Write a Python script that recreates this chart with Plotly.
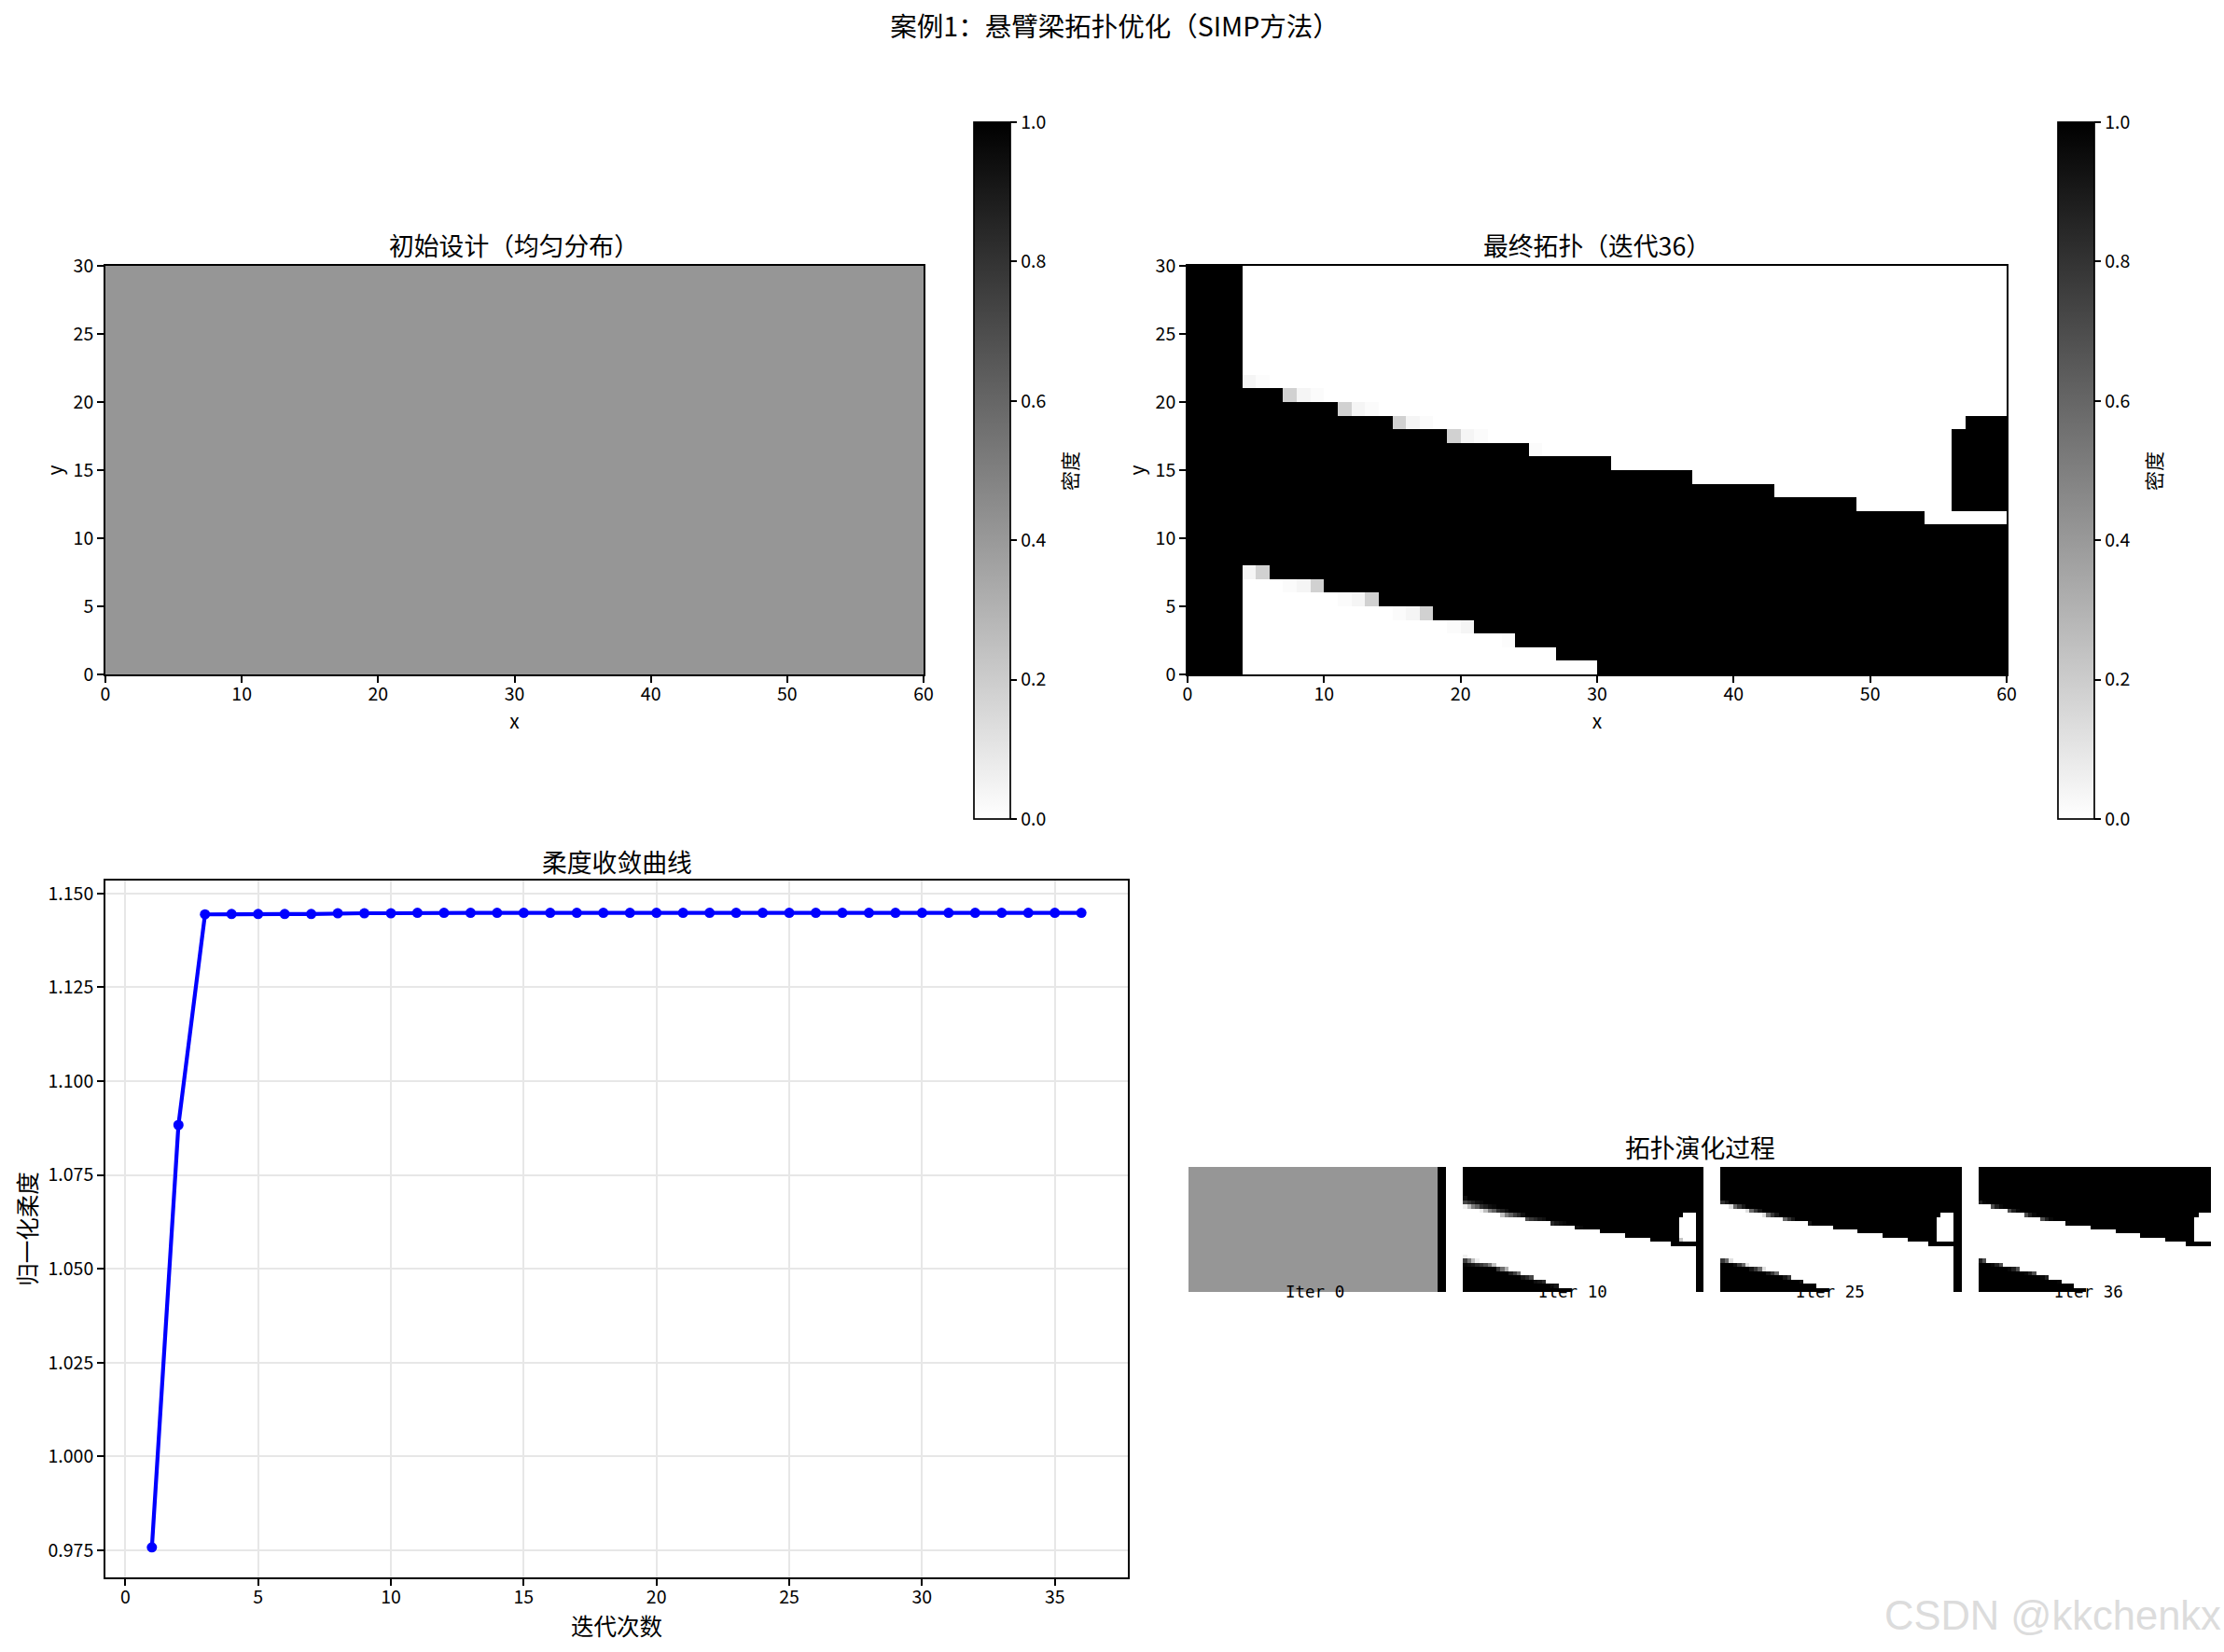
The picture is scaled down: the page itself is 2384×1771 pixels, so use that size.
import numpy as np
import plotly.graph_objects as go

W, H = 2384, 1771
FONT = "Noto Sans CJK SC"

# convergence curve
iterations = list(range(1, 37))
compliance = [0.9758, 1.0883, 1.1444, 1.1445, 1.1445, 1.1445, 1.1445, 1.1447, 1.1447, 1.1447,
              1.1448, 1.1448, 1.1448, 1.1448, 1.1448, 1.1448, 1.1448, 1.1448, 1.1448, 1.1448,
              1.1448, 1.1448, 1.1448, 1.1448, 1.1448, 1.1448, 1.1448, 1.1448, 1.1448, 1.1448,
              1.1448, 1.1448, 1.1448, 1.1448, 1.1448, 1.1448]
x_ticks = [0, 5, 10, 15, 20, 25, 30, 35]
y_ticks = [0.975, 1.0, 1.025, 1.05, 1.075, 1.1, 1.125, 1.15]

# density field, read per column: solid material spans solid_bottom..solid_top
solid_top = [30] * 4 + [21] * 3 + [20] * 4 + [19] * 4 + [18] * 4 + [17] * 6 + [16] * 6 + [15] * 6 \
    + [14] * 6 + [13] * 6 + [12] * 5 + [11] * 6
solid_bottom = [0] * 4 + [8] * 2 + [7] * 4 + [6] * 4 + [5] * 4 + [4] * 3 + [3] * 3 + [2] * 3 + [1] * 3 + [0] * 30
# the small isolated block at the free end: column, first row, end row
block = [(56, 12, 18), (57, 12, 19), (58, 12, 19), (59, 12, 19)]

initial_density = 0.41
initial_thumb = 0.59
sep_cols = 2

# partly filled cells: (column, row) and their grey level
grey_cells = [(4, 21), (5, 21), (7, 20), (8, 20), (9, 20), (11, 19), (12, 19), (13, 19), (15, 18), (16, 18),
              (17, 18), (19, 17), (20, 17), (21, 17), (25, 16), (4, 7), (5, 7), (7, 6), (8, 6), (9, 6),
              (11, 5), (12, 5), (13, 5), (15, 4), (16, 4), (17, 4), (19, 3), (20, 3), (23, 2)]
grey_final = [0.04, 0.01, 0.18, 0.04, 0.015, 0.18, 0.04, 0.015, 0.18, 0.04,
              0.015, 0.18, 0.04, 0.015, 0.015, 0.04, 0.18, 0.015, 0.04, 0.18,
              0.015, 0.04, 0.18, 0.015, 0.04, 0.18, 0.015, 0.04, 0.01]
grey_thumb36 = [0.125, 0.02, 0.31, 0.125, 0.03, 0.31, 0.125, 0.03, 0.31, 0.125,
                0.03, 0.31, 0.125, 0.03, 0.03, 0.125, 0.31, 0.03, 0.125, 0.31,
                0.03, 0.125, 0.31, 0.03, 0.125, 0.31, 0.03, 0.125, 0.02]

# thumbnails of iter 10 and 25: (column, row, grey level as shown)
thumb10_cells = [(4, 22, 0.06), (4, 21, 0.27), (5, 21, 0.19), (6, 21, 0.12), (7, 21, 0.06), (8, 21, 0.03),
                 (4, 20, 0.94), (5, 20, 0.75), (6, 20, 0.5), (7, 20, 0.38), (8, 20, 0.19), (9, 20, 0.12),
                 (10, 20, 0.06), (11, 20, 0.03),
                 (8, 19, 0.94), (9, 19, 0.75), (10, 19, 0.5), (11, 19, 0.38), (12, 19, 0.19), (13, 19, 0.12),
                 (14, 19, 0.06),
                 (13, 18, 0.75), (14, 18, 0.5), (15, 18, 0.38), (16, 18, 0.25), (17, 18, 0.16), (18, 18, 0.06),
                 (19, 17, 0.31), (20, 17, 0.22), (21, 17, 0.16), (22, 17, 0.09), (23, 17, 0.06),
                 (25, 16, 0.16), (26, 16, 0.09), (27, 16, 0.06), (28, 16, 0.03),
                 (31, 15, 0.06), (32, 15, 0.03), (56, 12, 0.78),
                 (4, 8, 0.94), (4, 7, 0.25), (5, 7, 0.47), (6, 7, 0.75), (7, 7, 0.94),
                 (4, 6, 0.03), (5, 6, 0.06), (6, 6, 0.09), (7, 6, 0.16), (8, 6, 0.22), (9, 6, 0.31), (10, 6, 0.47),
                 (11, 6, 0.75),
                 (12, 5, 0.22), (13, 5, 0.44), (14, 5, 0.69),
                 (15, 4, 0.12), (16, 4, 0.25), (17, 4, 0.44),
                 (18, 3, 0.09), (19, 3, 0.16), (20, 3, 0.28),
                 (21, 2, 0.06), (22, 2, 0.09), (23, 2, 0.16),
                 (25, 1, 0.06), (26, 1, 0.09)]
thumb25_cells = [(4, 21, 0.19), (5, 21, 0.09),
                 (6, 20, 0.88), (7, 20, 0.41), (8, 20, 0.22), (9, 20, 0.09),
                 (10, 19, 0.88), (11, 19, 0.41), (12, 19, 0.22), (13, 19, 0.09),
                 (14, 18, 0.88), (15, 18, 0.41), (16, 18, 0.22), (17, 18, 0.09),
                 (19, 17, 0.41), (20, 17, 0.22), (21, 17, 0.09), (25, 16, 0.09),
                 (4, 7, 0.22), (5, 7, 0.41), (6, 7, 0.88),
                 (7, 6, 0.06), (8, 6, 0.22), (9, 6, 0.41), (10, 6, 0.88),
                 (11, 5, 0.09), (12, 5, 0.22), (13, 5, 0.41), (14, 5, 0.88),
                 (15, 4, 0.09), (16, 4, 0.22), (17, 4, 0.41),
                 (19, 3, 0.09), (20, 3, 0.22), (23, 2, 0.06)]

thumb_labels = ["Iter 0", "Iter 10", "Iter 25", "Iter 36"]


def solid_field():
    # 1 = material, rows run from y=0 upward
    field = np.zeros((30, 60))
    for col in range(60):
        field[solid_bottom[col]:solid_top[col], col] = 1
    for col, r0, r1 in block:
        field[r0:r1, col] = 1
    return field


final_density = solid_field()
thumb36 = solid_field()
for (col, row), a, b in zip(grey_cells, grey_final, grey_thumb36):
    final_density[row, col] = a
    thumb36[row, col] = b

# iter 10 and 25 share the solid shape; the solid part shows white in the thumbnails
thumb10 = solid_field()
for col, row, v in thumb10_cells:
    thumb10[row, col] = v
thumb25 = solid_field()
for col, row, v in thumb25_cells:
    thumb25[row, col] = v

sep = np.zeros((30, sep_cols))
montage = np.hstack([np.full((30, 60), initial_thumb), sep, thumb10, sep, thumb25, sep, thumb36])


def px_x(a, b):
    return [a / W, b / W]


def px_y(top, bottom):
    return [1 - bottom / H, 1 - top / H]


def colorbar(x_left):
    return dict(
        x=x_left / W, xanchor="left", xpad=0,
        y=1 - 878 / H, yanchor="bottom", ypad=0,
        len=(878 - 131) / H, lenmode="fraction",
        thickness=39, thicknessmode="pixels",
        outlinecolor="black", outlinewidth=1.7,
        ticks="outside", ticklen=7, tickwidth=1.7, tickcolor="black",
        tickvals=[0, 0.2, 0.4, 0.6, 0.8, 1.0], tickformat=".1f", tickprefix="\u00a0",
        tickfont=dict(family=FONT, size=19.5, color="black"),
    )


gray_r = [[0, "#ffffff"], [1, "#000000"]]
gray = [[0, "#000000"], [1, "#ffffff"]]

fig = go.Figure()
fig.add_trace(go.Heatmap(z=np.full((30, 60), initial_density).tolist(), x0=0.5, dx=1, y0=0.5, dy=1,
                         colorscale=gray_r, zmin=0, zmax=1, xaxis="x", yaxis="y", colorbar=colorbar(1044)))
fig.add_trace(go.Heatmap(z=final_density.tolist(), x0=0.5, dx=1, y0=0.5, dy=1,
                         colorscale=gray_r, zmin=0, zmax=1, xaxis="x2", yaxis="y2", colorbar=colorbar(2206)))
fig.add_trace(go.Scatter(x=iterations, y=compliance, mode="lines+markers", xaxis="x3", yaxis="y3",
                         line=dict(color="#0000ff", width=4.2), marker=dict(color="#0000ff", size=11),
                         showlegend=False))
fig.add_trace(go.Heatmap(z=montage.tolist(), x0=0.5, dx=1, y0=0.5, dy=1, colorscale=gray, zmin=0, zmax=1,
                         showscale=False, xaxis="x4", yaxis="y4"))

axis_style = dict(showline=True, mirror=True, linecolor="black", linewidth=1.7, ticks="outside", ticklen=7,
                  tickwidth=1.7, tickcolor="black", showgrid=False, zeroline=False,
                  tickfont=dict(family=FONT, size=19.5, color="black"))
grid_style = {**axis_style, "showgrid": True, "gridcolor": "#e7e7e7", "gridwidth": 1.5}
label_font = dict(family=FONT, size=21, color="black")
axis_label_font = dict(family=FONT, size=24.5, color="black")
big_font = dict(family=FONT, size=26.8, color="black")
img_x_ticks = [0, 10, 20, 30, 40, 50, 60]
img_y_ticks = [0, 5, 10, 15, 20, 25, 30]

fig.update_layout(
    width=W, height=H,
    margin=dict(l=0, r=0, t=0, b=0, autoexpand=False),
    paper_bgcolor="white", plot_bgcolor="white",
    showlegend=False,
    title=dict(text="案例1：悬臂梁拓扑优化（SIMP方法）", x=0.5 + 3 / W, xanchor="center", y=1 - 29 / H, yanchor="middle",
               font=dict(family=FONT, size=28.5, color="black")),
    xaxis=dict(domain=px_x(113, 990), range=[0, 60], tickvals=img_x_ticks, anchor="y", ticklabelstandoff=-4,
               title=dict(text="x", font=label_font, standoff=5), **axis_style),
    yaxis=dict(domain=px_y(285, 723), range=[0, 30], tickvals=img_y_ticks, anchor="x", ticklabelstandoff=0,
               title=dict(text="y", font=label_font, standoff=5), **axis_style),
    xaxis2=dict(domain=px_x(1273, 2151), range=[0, 60], tickvals=img_x_ticks, anchor="y2", ticklabelstandoff=-4,
                title=dict(text="x", font=label_font, standoff=5), **axis_style),
    yaxis2=dict(domain=px_y(285, 723), range=[0, 30], tickvals=img_y_ticks, anchor="x2", ticklabelstandoff=0,
                title=dict(text="y", font=label_font, standoff=5), **axis_style),
    xaxis3=dict(domain=px_x(113, 1209), range=[-0.75, 37.75], tickvals=x_ticks, anchor="y3", ticklabelstandoff=-4,
                title=dict(text="迭代次数", font=axis_label_font, standoff=5), **grid_style),
    yaxis3=dict(domain=px_y(944, 1691), range=[0.9678, 1.1534], tickvals=y_ticks, tickformat=".3f", anchor="x3",
                ticklabelstandoff=0, title=dict(text="归一化柔度", font=axis_label_font, standoff=5), **grid_style),
    xaxis4=dict(domain=px_x(1274, 2370), range=[0, montage.shape[1]], visible=False, anchor="y4"),
    yaxis4=dict(domain=px_y(1251, 1385), range=[0, 30], visible=False, anchor="x4"),
)

titles = [("初始设计（均匀分布）", 551, 263), ("最终拓扑（迭代36）", 1712, 263),
          ("柔度收敛曲线", 661, 923), ("拓扑演化过程", 1822, 1229)]
for text, x, y in titles:
    fig.add_annotation(text=text, x=x / W, y=1 - y / H, xref="paper", yref="paper", showarrow=False,
                       xanchor="center", yanchor="middle", font=big_font)

# labels under the montage panels, centred on each panel
for i, label in enumerate(thumb_labels):
    fig.add_annotation(text=label, x=30.5 + i * 62, y=1 - 1385 / H, xref="x4", yref="paper", showarrow=False,
                       xanchor="center", yanchor="middle",
                       font=dict(family="DejaVu Sans Mono", size=17.5, color="black"))

for x in (1146, 2308):
    fig.add_annotation(text="密度", x=x / W, y=1 - 505 / H, xref="paper", yref="paper", showarrow=False,
                       textangle=-90, xanchor="center", yanchor="middle", font=label_font)

fig.add_annotation(text="CSDN @kkchenkx", x=2383 / W, y=1 - 1732 / H, xref="paper", yref="paper", showarrow=False,
                   xanchor="right", yanchor="middle", font=dict(family="Liberation Sans", size=43.5, color="#dcdcdc"))

fig.write_html("out.html", config=dict(displayModeBar=False), post_script="document.body.style.margin='0';")
